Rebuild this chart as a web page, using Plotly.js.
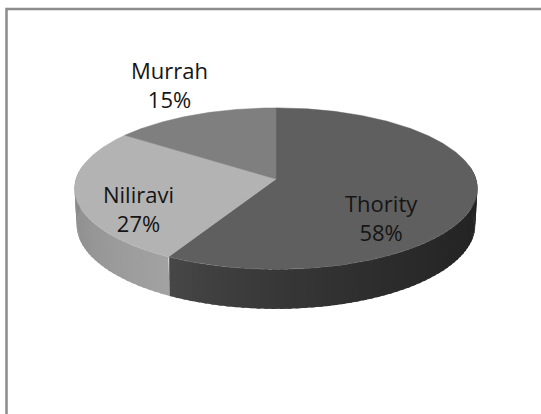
<!DOCTYPE html>
<html>
<head>
<meta charset="utf-8">
<script src="https://cdn.plot.ly/plotly-3.0.1.min.js"></script>
<style>html,body{margin:0;padding:0;background:#fff;}#chart{width:541px;height:414px;}</style>
</head>
<body>
<div id="chart"></div>
<script>
// ---- data ----
const categories = ['Thority', 'Niliravi', 'Murrah'];
const values = [58, 27, 15];

// ---- styling ----
const topColors = ['#5f5f5f', '#b3b3b3', '#7f7f7f'];
const labelPos = [[381, 217], [138, 208], [169, 84]];

// ---- 3D projection of a tilted disk (pixel axes) ----
const CX = 276, CY = 179, S = 200, D = 7.69, SN = 0.398, CS = 0.917, H = 0.197;
function proj(thetaDeg, r, z) {
  const t = thetaDeg * Math.PI / 180;
  const X = r * Math.sin(t), Y = r * Math.cos(t);
  const depth = D + Y * CS - z * SN;
  const v = Y * SN + z * CS;
  const f = D / depth;
  return [CX + S * X * f, CY - S * v * f];
}

const total = values.reduce((a, b) => a + b, 0);
const starts = [], ends = [];
let acc = 0;
values.forEach(v => { starts.push(acc / total * 360); acc += v; ends.push(acc / total * 360); });

function hex(b) { b = Math.max(0, Math.min(255, Math.round(b))); const h = b.toString(16).padStart(2, '0'); return '#' + h + h + h; }
function wallShade(i, th) {
  if (i === 0) { const t = Math.max(0, (th - 90) / (ends[0] - 90)); return hex(0x23 + (0x47 - 0x23) * t * t); }
  if (i === 1) { const t = Math.min(1, (th - starts[1]) / (270 - starts[1])); return hex(0xa2 + (0x8a - 0xa2) * t); }
  return hex(0x70);
}

const traces = [];
// side walls (front part only; back part is hidden by the top face)
values.forEach((v, i) => {
  const a0 = Math.max(starts[i], 80), a1 = Math.min(ends[i], 280);
  if (a1 <= a0) return;
  const step = 2;
  for (let a = a0; a < a1; a += step) {
    const b = Math.min(a + step + 1, a1);   // overlap next segment to hide seams
    const xs = [], ys = [];
    for (let th = a; th <= b + 1e-9; th += 0.5) { const p = proj(th, 1, 0); xs.push(p[0]); ys.push(p[1]); }
    for (let th = b; th >= a - 1e-9; th -= 0.5) { const p = proj(th, 1, -H); xs.push(p[0]); ys.push(p[1]); }
    xs.push(xs[0]); ys.push(ys[0]);
    const c = wallShade(i, a + step / 2);
    traces.push({ type: 'scatter', mode: 'lines', x: xs, y: ys, fill: 'toself', fillcolor: c,
      line: { width: 0 }, hoverinfo: 'skip', showlegend: false });
  }
});
// top faces
values.forEach((v, i) => {
  const xs = [], ys = [];
  const c0 = proj(0, 0, 0); xs.push(c0[0]); ys.push(c0[1]);
  for (let a = starts[i]; a <= ends[i] + 1e-9; a += 0.5) { const p = proj(a, 1, 0); xs.push(p[0]); ys.push(p[1]); }
  const pe = proj(ends[i], 1, 0); xs.push(pe[0]); ys.push(pe[1]);
  xs.push(c0[0]); ys.push(c0[1]);
  traces.push({ type: 'scatter', mode: 'lines', x: xs, y: ys, fill: 'toself', fillcolor: topColors[i],
    line: { color: topColors[i], width: 0.5 }, hoverinfo: 'skip', showlegend: false, name: categories[i] });
});

const annotations = categories.map((c, i) => ({
  x: labelPos[i][0], y: labelPos[i][1], xref: 'x', yref: 'y',
  text: c + '<br>' + Math.round(values[i] / total * 100) + '%',
  showarrow: false, xanchor: 'center', yanchor: 'middle',
  font: { family: 'Open Sans, sans-serif', size: 22, color: '#151515' }
}));

const layout = {
  width: 541, height: 414,
  margin: { l: 0, r: 0, t: 0, b: 0 },
  paper_bgcolor: '#ffffff', plot_bgcolor: '#ffffff',
  xaxis: { range: [0, 541], visible: false, fixedrange: true },
  yaxis: { range: [414, 0], visible: false, fixedrange: true },
  showlegend: false,
  annotations: annotations,
  shapes: [{ type: 'rect', xref: 'x', yref: 'y', x0: 6.5, y0: 9, x1: 560, y1: 440,
    line: { color: '#8c8c8c', width: 2.5 }, fillcolor: 'rgba(0,0,0,0)', layer: 'above' }]
};

Plotly.newPlot('chart', traces, layout, { staticPlot: true, displayModeBar: false });
</script>
</body>
</html>
